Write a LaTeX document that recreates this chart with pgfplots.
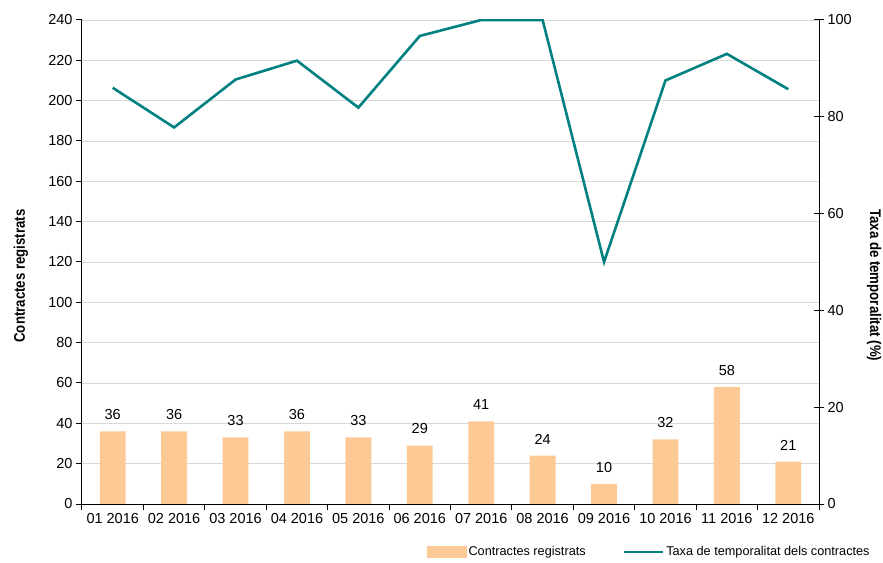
\documentclass[border=0pt]{standalone}
\usepackage{fontspec}
\setmainfont{Liberation Sans}
\newfontfamily\narrowfont[FakeStretch=0.86]{Liberation Sans}
\usepackage{pgfplots}
\pgfplotsset{compat=1.18}
\definecolor{barcol}{RGB}{253,202,150}
\definecolor{linecol}{RGB}{0,128,128}
\definecolor{gridcol}{RGB}{217,217,217}
\newcommand{\tickfont}{\fontsize{14.5bp}{17bp}\selectfont}
\newcommand{\labfont}{\narrowfont\bfseries\fontsize{15.4bp}{18bp}\selectfont}
\begin{document}
\begin{tikzpicture}
\begin{axis}[
  scale only axis, width=737bp, height=484bp,
  xmin=-0.5, xmax=11.5, ymin=0, ymax=240,
  axis x line*=bottom, axis y line*=left,
  axis line style={line width=1bp, black, -},
  /pgf/number format/assume math mode=true,
  xtick={-0.5,0.5,...,11.5},
  xticklabels={01 2016,02 2016,03 2016,04 2016,05 2016,06 2016,07 2016,08 2016,09 2016,10 2016,11 2016,12 2016},
  x tick label as interval,
  ytick={0,20,...,240},
  tick align=outside, major tick length=6bp,
  tick style={line width=1bp, black},
  ymajorgrids, grid style={gridcol, line width=0.9bp},
  ticklabel style={font=\tickfont, black},
  ylabel={Contractes registrats},
  ylabel style={at={(axis description cs:-0.0828,0.471)}, anchor=center, font=\labfont},
]
\addplot[ybar, bar width=0.42, fill=barcol, draw=none,
  nodes near coords, nodes near coords style={font=\tickfont, black, yshift=8bp}]
  coordinates {(0,36) (1,36) (2,33) (3,36) (4,33) (5,29) (6,41) (7,24) (8,10) (9,32) (10,58) (11,21)};
\end{axis}
\begin{axis}[
  scale only axis, width=737bp, height=484bp,
  xmin=-0.5, xmax=11.5, ymin=0, ymax=100,
  axis x line=none, axis y line*=right,
  axis line style={line width=1bp, black, -},
  /pgf/number format/assume math mode=true,
  ytick={0,20,...,100},
  tick align=center, major tick length=10bp,
  tick style={line width=1bp, black},
  ticklabel style={font=\tickfont, black},
  ylabel={Taxa de temporalitat (\%)},
  ylabel style={at={(axis description cs:1.0746,0.452)}, anchor=center, rotate=180, font=\labfont},
  legend columns=2,
  legend style={at={(axis description cs:1.073,-0.099)}, anchor=east, draw=none, fill=none,
    font=\fontsize{12.7bp}{15bp}\selectfont, inner sep=1bp,
    /tikz/every even column/.append style={column sep=35bp}},
]
\addlegendimage{legend image code/.code={\fill[barcol] (0bp,-5.5bp) rectangle (39bp,5.5bp);}}
\addlegendentry{Contractes registrats}
\addplot[linecol, line width=2.6bp, line join=miter,
  legend image code/.code={\draw[linecol, line width=2.6bp] (0bp,0bp) -- (39bp,0bp);}]
  coordinates {(0,86.0) (1,77.8) (2,87.7) (3,91.6) (4,81.9) (5,96.7) (6,100) (7,100) (8,50) (9,87.5) (10,93.0) (11,85.7)};
\addlegendentry{Taxa de temporalitat dels contractes}
\end{axis}
\pgfresetboundingbox
\path ([shift={(-82bp,-59bp)}]current axis.south west) rectangle ([shift={(64bp,20bp)}]current axis.north east);
\end{tikzpicture}
\end{document}
